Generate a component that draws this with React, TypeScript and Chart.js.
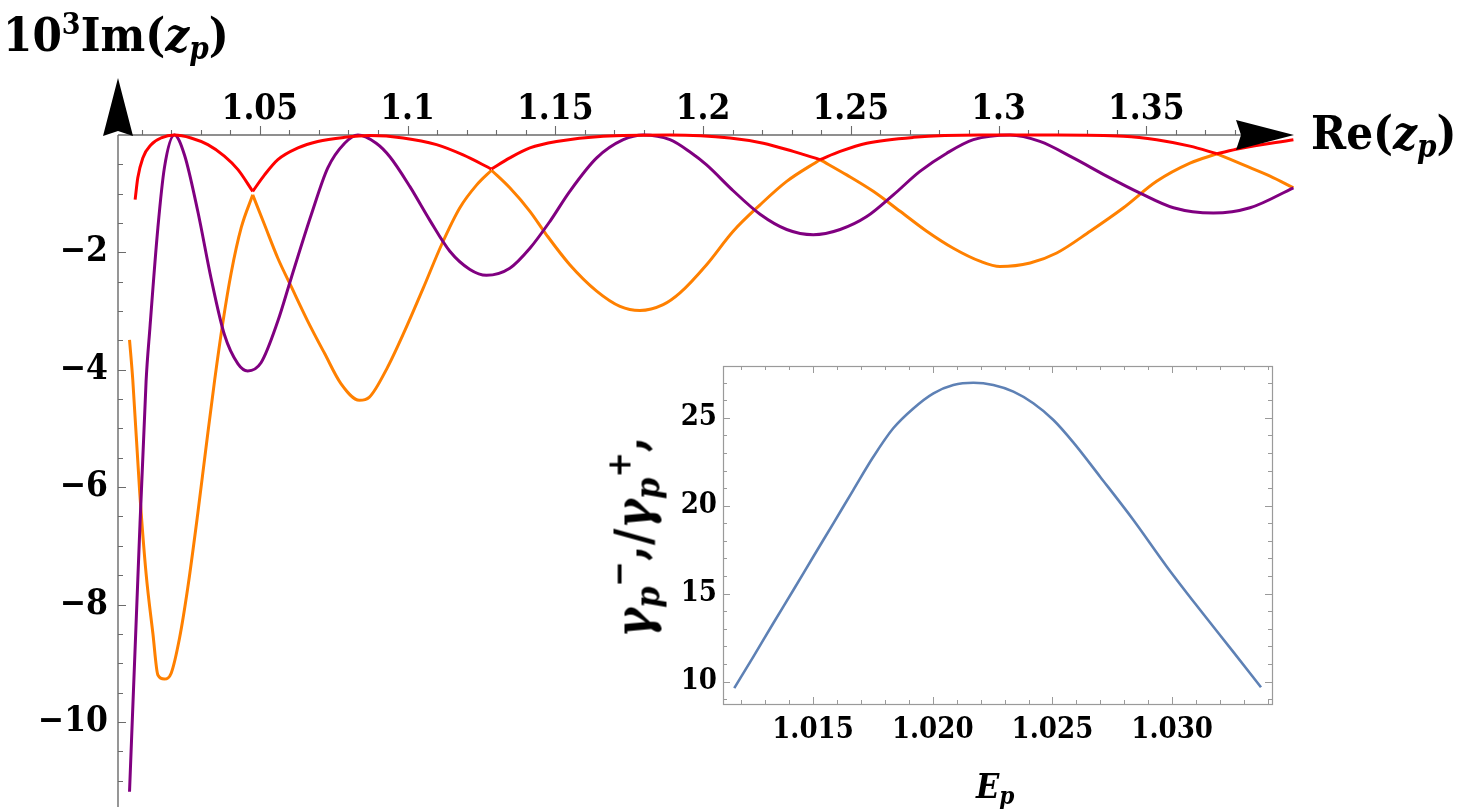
import React, { useEffect, useRef } from "react";
import { Chart, registerables } from "chart.js";

Chart.register(...registerables);

const FONT = '"DejaVu Serif Condensed", "DejaVu Serif", serif';

// ---------- main chart data: Re(z_p) vs 10^3 Im(z_p) ----------
const RED_X = [1.0078, 1.0087, 1.0104, 1.0132, 1.0166, 1.0211, 1.0267, 1.0324, 1.038, 1.0426, 1.0476,
  1.0516, 1.0561, 1.0629, 1.0696, 1.0787, 1.0872, 1.0985, 1.1098, 1.1188, 1.1284,
  1.1346, 1.1414, 1.1504, 1.1662, 1.1888, 1.2091, 1.2204, 1.2305, 1.2396,
  1.2464, 1.2554, 1.2712, 1.2937, 1.3197, 1.3423, 1.3535, 1.3648, 1.3739,
  1.3817, 1.3998];
const RED_Y = [-1.1, -0.73, -0.39, -0.165, -0.05, 0, -0.05, -0.165, -0.36, -0.59, -0.96,
  -0.68, -0.42, -0.22, -0.11, -0.04, -0.01, -0.05, -0.165, -0.34, -0.58,
  -0.39, -0.22, -0.11, -0.02, 0, -0.05, -0.14, -0.28, -0.42,
  -0.28, -0.14, -0.04, 0, 0, -0.02, -0.08, -0.19, -0.32,
  -0.23, -0.08];

const PURPLE_X = [1.0059, 1.0087, 1.0115, 1.0128, 1.0155, 1.0177, 1.0211, 1.0245, 1.029, 1.0335, 1.038,
  1.0426, 1.0459, 1.0504, 1.0561, 1.0606, 1.0674, 1.073, 1.0787, 1.0832, 1.0894, 1.094, 1.1008,
  1.1075, 1.1143, 1.1211, 1.1267, 1.1346, 1.1414, 1.1482, 1.1549, 1.164, 1.173, 1.1798, 1.1888,
  1.1956, 1.2012, 1.2102, 1.2193, 1.2283, 1.2373, 1.2464, 1.2554, 1.2644, 1.2734, 1.2825, 1.2915,
  1.3039, 1.314, 1.3253, 1.3366, 1.3479, 1.3592, 1.3727, 1.3851, 1.3998];
const PURPLE_Y = [-11.19, -7.58, -4.2, -3.29, -1.58, -0.56, 0, -0.34, -1.3, -2.44, -3.4,
  -3.9, -4.02, -3.88, -3.17, -2.44, -1.36, -0.56, -0.14, 0, -0.14, -0.37, -0.88,
  -1.45, -1.98, -2.29, -2.39, -2.27, -1.93, -1.47, -0.96, -0.39, -0.08, 0, -0.08,
  -0.29, -0.51, -0.95, -1.35, -1.61, -1.7, -1.61, -1.39, -1.02, -0.62, -0.31, -0.08,
  0, -0.11, -0.39, -0.7, -0.99, -1.24, -1.33, -1.24, -0.9];

const ORANGE_X = [1.0059, 1.007, 1.0093, 1.0115, 1.0138, 1.0155, 1.0177, 1.02, 1.0228, 1.0256, 1.029,
  1.0318, 1.0347, 1.0375, 1.0403, 1.0437, 1.0476,
  1.0516, 1.0561, 1.0606, 1.0662, 1.0719, 1.0775, 1.0837, 1.087, 1.093, 1.0991, 1.1053, 1.1115,
  1.1177, 1.1234, 1.1284,
  1.1346, 1.1414, 1.147, 1.1549, 1.164, 1.1719, 1.1786, 1.1865, 1.1922, 1.2012, 1.2102, 1.2193,
  1.2283, 1.2396,
  1.2486, 1.2576, 1.2667, 1.2757, 1.2847, 1.2937, 1.3005, 1.3107, 1.3197, 1.331, 1.3423, 1.3535,
  1.3648, 1.3739,
  1.3829, 1.3919, 1.3998];
const ORANGE_Y = [-3.49, -4.17, -6.05, -7.47, -8.49, -9.2, -9.27, -9.17, -8.58, -7.72, -6.45,
  -5.32, -4.18, -3.19, -2.35, -1.58, -1.02,
  -1.53, -2.1, -2.58, -3.17, -3.72, -4.24, -4.52, -4.47, -3.98, -3.33, -2.61, -1.87,
  -1.24, -0.85, -0.6,
  -0.9, -1.3, -1.7, -2.21, -2.66, -2.92, -2.99, -2.89, -2.69, -2.21, -1.64, -1.19,
  -0.79, -0.42,
  -0.68, -0.96, -1.3, -1.64, -1.93, -2.15, -2.24, -2.18, -2.01, -1.64, -1.24, -0.79,
  -0.48, -0.32,
  -0.51, -0.7, -0.9];

// points where the red and orange curves have kinks
const CUSP_X = [1.0476, 1.1284, 1.2396, 1.3739];

const X_MIN = 1.002;
const X_MAX = 1.4;
const Y_MIN = -11.45;
const Y_MAX = 0;
const X_MAJOR = [1.05, 1.1, 1.15, 1.2, 1.25, 1.3, 1.35];
const X_MAJOR_LABELS = ["1.05", "1.1", "1.15", "1.2", "1.25", "1.3", "1.35"];
const X_MINOR_FROM = 1.01, X_MINOR_TO = 1.39, X_MINOR_STEP = 0.01;
const Y_MAJOR = [-10, -8, -6, -4, -2];
const Y_MAJOR_LABELS = ["\u221210", "\u22128", "\u22126", "\u22124", "\u22122"];
const Y_MINOR_FROM = -11, Y_MINOR_TO = -0.5, Y_MINOR_STEP = 0.5;

// ---------- inset data: E_p vs gamma ratio ----------
const INSET_X = [1.01171, 1.01251, 1.01334, 1.01418, 1.01501, 1.01585, 1.01668, 1.01752, 1.01835,
  1.01919, 1.02003, 1.02086, 1.0217, 1.02253, 1.02337, 1.0242, 1.02504, 1.02587, 1.02699,
  1.02838, 1.02977, 1.03117, 1.03256, 1.03371];
const INSET_Y = [9.63, 11.42, 13.32, 15.21, 17.1, 19.0, 20.89, 22.78, 24.4,
  25.53, 26.39, 26.86, 26.99, 26.86, 26.48, 25.82, 24.87, 23.6, 21.65,
  19.19, 16.55, 14.07, 11.68, 9.68];
const IN_X_MIN = 1.01124, IN_X_MAX = 1.03417;
const IN_Y_MIN = 8.73, IN_Y_MAX = 27.94;
const IN_X_MAJOR = [1.015, 1.02, 1.025, 1.03];
const IN_X_MAJOR_LABELS = ["1.015", "1.020", "1.025", "1.030"];
const IN_X_MINOR_FROM = 1.012, IN_X_MINOR_TO = 1.034, IN_X_MINOR_STEP = 0.001;
const IN_Y_MAJOR = [10, 15, 20, 25];
const IN_Y_MAJOR_LABELS = ["10", "15", "20", "25"];
const IN_Y_MINOR_FROM = 9, IN_Y_MINOR_TO = 27, IN_Y_MINOR_STEP = 1;

const RED = "#ff0000";
const PURPLE = "#800080";
const ORANGE = "#ff8000";
const BLUE = "#5e81b5";

function range(from: number, to: number, step: number): number[] {
  const out: number[] = [];
  const n = Math.round((to - from) / step);
  for (let i = 0; i <= n; i++) out.push(+(from + i * step).toFixed(6));
  return out;
}

function splitAtCusps(xs: number[], ys: number[], cusps: number[]) {
  const segs: { x: number; y: number }[][] = [];
  let cur: { x: number; y: number }[] = [];
  xs.forEach((x, i) => {
    cur.push({ x, y: ys[i] });
    if (i > 0 && i < xs.length - 1 && cusps.some((c) => Math.abs(c - x) < 1e-9)) {
      segs.push(cur);
      cur = [{ x, y: ys[i] }];
    }
  });
  segs.push(cur);
  return segs;
}

function isMajor(v: number, majors: number[]) {
  return majors.some((m) => Math.abs(m - v) < 1e-7);
}

const mainAxesPlugin = {
  id: "mainAxes",
  beforeDatasetsDraw(chart: any) {
    const { ctx, chartArea, scales } = chart;
    const { left, top, right, bottom } = chartArea;
    ctx.save();
    ctx.strokeStyle = "#6b6b6b";
    ctx.lineWidth = 1.4;
    ctx.beginPath();
    ctx.moveTo(left, top);
    ctx.lineTo(right - 40, top);
    ctx.moveTo(left, top);
    ctx.lineTo(left, bottom);
    ctx.stroke();
    ctx.lineWidth = 1.1;
    ctx.beginPath();
    for (const v of range(X_MINOR_FROM, X_MINOR_TO, X_MINOR_STEP)) {
      const px = Math.round(scales.x.getPixelForValue(v)) + 0.5;
      const len = isMajor(v, X_MAJOR) ? 9 : 5;
      ctx.moveTo(px, top);
      ctx.lineTo(px, top - len);
    }
    for (const v of range(Y_MINOR_FROM, Y_MINOR_TO, Y_MINOR_STEP)) {
      const py = Math.round(scales.y.getPixelForValue(v)) + 0.5;
      const len = isMajor(v, Y_MAJOR) ? 8 : 5;
      ctx.moveTo(left, py);
      ctx.lineTo(left + len, py);
    }
    ctx.stroke();
    ctx.restore();
  },
  afterDatasetsDraw(chart: any) {
    const { ctx, chartArea } = chart;
    const { left, top, right } = chartArea;
    ctx.save();
    ctx.fillStyle = "#000";
    // y arrow
    ctx.beginPath();
    ctx.moveTo(left, top - 57);
    ctx.lineTo(left + 15, top + 1);
    ctx.lineTo(left, top - 4);
    ctx.lineTo(left - 15, top + 1);
    ctx.closePath();
    ctx.fill();
    // x arrow
    ctx.beginPath();
    ctx.moveTo(right, top);
    ctx.lineTo(right - 58, top - 15);
    ctx.lineTo(right - 53, top);
    ctx.lineTo(right - 58, top + 15);
    ctx.closePath();
    ctx.fill();
    ctx.restore();
  },
};

const insetFramePlugin = {
  id: "insetFrame",
  beforeDatasetsDraw(chart: any) {
    const { ctx, chartArea, scales } = chart;
    const { left, top, right, bottom } = chartArea;
    ctx.save();
    ctx.strokeStyle = "#9a9a9a";
    ctx.lineWidth = 1.2;
    ctx.strokeRect(left + 0.5, top + 0.5, right - left, bottom - top);
    ctx.lineWidth = 1;
    ctx.beginPath();
    for (const v of range(IN_X_MINOR_FROM, IN_X_MINOR_TO, IN_X_MINOR_STEP)) {
      const px = Math.round(scales.x.getPixelForValue(v)) + 0.5;
      const len = isMajor(v, IN_X_MAJOR) ? 7 : 4;
      ctx.moveTo(px, bottom);
      ctx.lineTo(px, bottom - len);
      ctx.moveTo(px, top);
      ctx.lineTo(px, top + len);
    }
    for (const v of range(IN_Y_MINOR_FROM, IN_Y_MINOR_TO, IN_Y_MINOR_STEP)) {
      const py = Math.round(scales.y.getPixelForValue(v)) + 0.5;
      const len = isMajor(v, IN_Y_MAJOR) ? 7 : 4;
      ctx.moveTo(left, py);
      ctx.lineTo(left + len, py);
      ctx.moveTo(right, py);
      ctx.lineTo(right - len, py);
    }
    ctx.stroke();
    ctx.restore();
  },
};

export default function App() {
  const mainRef = useRef<HTMLCanvasElement | null>(null);
  const insetRef = useRef<HTMLCanvasElement | null>(null);

  useEffect(() => {
    if (!mainRef.current || !insetRef.current) return;
    const lineDs = (data: any[], color: string) => ({
      data,
      borderColor: color,
      borderWidth: 3,
      pointRadius: 0,
      fill: false,
      cubicInterpolationMode: "monotone" as const,
      clip: false as const,
    });
    const redSegs = splitAtCusps(RED_X, RED_Y, CUSP_X);
    const orangeSegs = splitAtCusps(ORANGE_X, ORANGE_Y, CUSP_X);
    const purple = PURPLE_X.map((x, i) => ({ x, y: PURPLE_Y[i] }));
    const datasets: any[] = [
      ...redSegs.map((s) => lineDs(s, RED)),
      lineDs(purple, PURPLE),
      ...orangeSegs.map((s) => lineDs(s, ORANGE)),
    ];

    const tickFont = { family: FONT, size: 35, weight: "bold" as const };
    const main = new Chart(mainRef.current, {
      type: "line",
      data: { datasets },
      plugins: [mainAxesPlugin],
      options: {
        responsive: false,
        animation: false,
        events: [],
        layout: { padding: { left: 0, top: 0, right: 165, bottom: 2 } },
        plugins: { legend: { display: false }, tooltip: { enabled: false } },
        scales: {
          x: {
            type: "linear",
            position: "top",
            min: X_MIN,
            max: X_MAX,
            bounds: "data",
            grid: { display: false, drawTicks: false },
            border: { display: false },
            ticks: {
              font: tickFont,
              color: "#000",
              padding: 4,
              maxRotation: 0,
              autoSkip: false,
              callback: (_v: any, i: number) => X_MAJOR_LABELS[i],
            },
            afterBuildTicks: (s: any) => {
              s.ticks = X_MAJOR.map((value) => ({ value }));
            },
            afterFit: (s: any) => {
              s.height = 135;
              s.paddingLeft = 0;
              s.paddingRight = 0;
            },
          },
          y: {
            type: "linear",
            min: Y_MIN,
            max: Y_MAX,
            bounds: "data",
            grid: { display: false, drawTicks: false },
            border: { display: false },
            ticks: {
              font: tickFont,
              color: "#000",
              padding: 10,
              autoSkip: false,
              callback: (_v: any, i: number) => Y_MAJOR_LABELS[i],
            },
            afterBuildTicks: (s: any) => {
              s.ticks = Y_MAJOR.map((value) => ({ value }));
            },
            afterFit: (s: any) => {
              s.width = 118;
              s.paddingTop = 0;
              s.paddingBottom = 0;
            },
          },
        },
      },
    });

    const insetFont = { family: FONT, size: 29, weight: "bold" as const };
    const inset = new Chart(insetRef.current, {
      type: "line",
      data: {
        datasets: [
          {
            data: INSET_X.map((x, i) => ({ x, y: INSET_Y[i] })),
            borderColor: BLUE,
            borderWidth: 2.6,
            pointRadius: 0,
            fill: false,
            cubicInterpolationMode: "monotone",
          },
        ],
      },
      plugins: [insetFramePlugin],
      options: {
        responsive: false,
        animation: false,
        events: [],
        layout: { padding: { left: 0, top: 11, right: 20, bottom: 0 } },
        plugins: { legend: { display: false }, tooltip: { enabled: false } },
        scales: {
          x: {
            type: "linear",
            position: "bottom",
            min: IN_X_MIN,
            max: IN_X_MAX,
            bounds: "data",
            grid: { display: false, drawTicks: false },
            border: { display: false },
            ticks: {
              font: insetFont,
              color: "#000",
              padding: 9,
              maxRotation: 0,
              autoSkip: false,
              callback: (_v: any, i: number) => IN_X_MAJOR_LABELS[i],
            },
            afterBuildTicks: (s: any) => {
              s.ticks = IN_X_MAJOR.map((value) => ({ value }));
            },
            afterFit: (s: any) => {
              s.height = 105;
              s.paddingLeft = 0;
              s.paddingRight = 0;
            },
          },
          y: {
            type: "linear",
            min: IN_Y_MIN,
            max: IN_Y_MAX,
            bounds: "data",
            grid: { display: false, drawTicks: false },
            border: { display: false },
            ticks: {
              font: insetFont,
              color: "#000",
              padding: 6,
              autoSkip: false,
              callback: (_v: any, i: number) => IN_Y_MAJOR_LABELS[i],
            },
            afterBuildTicks: (s: any) => {
              s.ticks = IN_Y_MAJOR.map((value) => ({ value }));
            },
            afterFit: (s: any) => {
              s.width = 143;
              s.paddingTop = 0;
              s.paddingBottom = 0;
            },
          },
        },
      },
    });

    return () => {
      main.destroy();
      inset.destroy();
    };
  }, []);

  const base: React.CSSProperties = {
    position: "absolute",
    fontFamily: FONT,
    fontWeight: "bold",
    whiteSpace: "nowrap",
    color: "#000",
  };

  return (
    <div style={{ position: "absolute", left: 0, top: 0, width: 1459, height: 809, background: "#fff", overflow: "hidden" }}>
      <canvas ref={mainRef} width={1459} height={809} style={{ position: "absolute", left: 0, top: 0 }} />
      <canvas ref={insetRef} width={712} height={454} style={{ position: "absolute", left: 580, top: 355 }} />
      <div style={{ ...base, left: 3, top: 11, fontSize: 47, lineHeight: "47px" }}>
        10<span style={{ fontSize: 30, position: "relative", top: -17 }}>3</span>Im(<span style={{ fontStyle: "italic" }}>z</span>
        <span style={{ fontStyle: "italic", fontSize: 31, position: "relative", top: 8 }}>p</span>)
      </div>
      <div style={{ ...base, left: 1311, top: 109, fontSize: 47, lineHeight: "47px" }}>
        Re(<span style={{ fontStyle: "italic" }}>z</span>
        <span style={{ fontStyle: "italic", fontSize: 31, position: "relative", top: 8 }}>p</span>)
      </div>
      <div style={{ ...base, left: 976, top: 769, fontSize: 34, lineHeight: "34px", fontStyle: "italic" }}>
        E<span style={{ fontSize: 24, position: "relative", top: 6 }}>p</span>
      </div>
      <div
        style={{
          ...base,
          left: 636,
          top: 537,
          fontSize: 50,
          lineHeight: "50px",
          transform: "translate(-50%, -50%) rotate(-90deg)",
        }}
      >
        <span style={{ fontStyle: "italic" }}>γ</span>
        <span style={{ fontStyle: "italic", fontSize: 34, position: "relative", top: 9 }}>p</span>
        <span style={{ fontSize: 34, position: "relative", top: -20 }}>−</span>
        <span style={{ position: "relative", top: -6 }}>,</span>
        <span>/</span>
        <span style={{ fontStyle: "italic" }}>γ</span>
        <span style={{ fontStyle: "italic", fontSize: 34, position: "relative", top: 9 }}>p</span>
        <span style={{ fontSize: 34, position: "relative", top: -20 }}>+</span>
        <span style={{ position: "relative", top: -6 }}>,</span>
      </div>
    </div>
  );
}
